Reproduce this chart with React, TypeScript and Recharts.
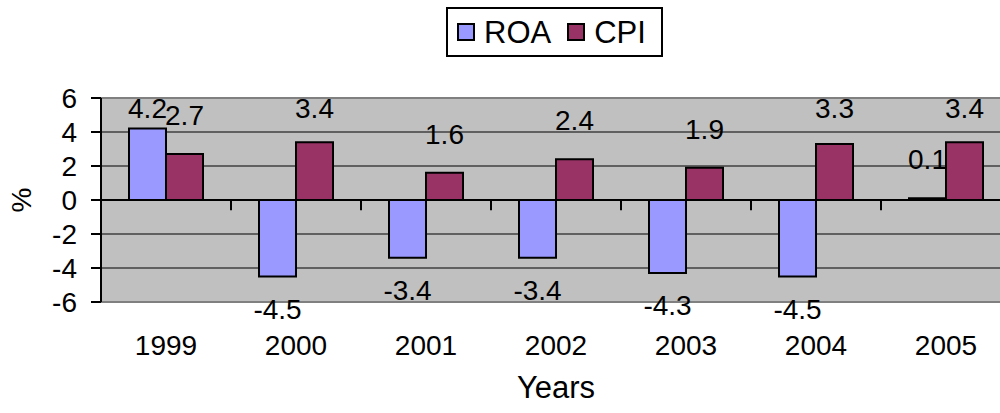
import {
  BarChart,
  Bar,
  XAxis,
  YAxis,
  CartesianGrid,
  ReferenceLine,
  LabelList,
  Legend,
} from "recharts";

const YEARS = ["1999", "2000", "2001", "2002", "2003", "2004", "2005"];
const ROA = [4.2, -4.5, -3.4, -3.4, -4.3, -4.5, 0.1];
const CPI = [2.7, 3.4, 1.6, 2.4, 1.9, 3.3, 3.4];
const Y_TICKS = [-6, -4, -2, 0, 2, 4, 6];
const Y_MAX = 6;

const SERIES = [
  { key: "ROA", color: "#9999FF" },
  { key: "CPI", color: "#993366" },
];

const FONT = '"Liberation Sans", Arial, sans-serif';
const FONT_SIZE = 28;

const chartData = YEARS.map((year, i) => ({ year, ROA: ROA[i], CPI: CPI[i] }));

function LegendBox() {
  return (
    <div style={{ height: 98, position: "relative", fontFamily: FONT }}>
      <div
        style={{
          position: "absolute",
          left: 446,
          top: 7,
          width: 217,
          height: 50,
          boxSizing: "border-box",
          border: "2px solid #000",
          background: "#fff",
          display: "flex",
          alignItems: "center",
          paddingLeft: 9,
        }}
      >
        {SERIES.map((s, i) => (
          <div
            key={s.key}
            style={{ display: "flex", alignItems: "center", marginLeft: i ? 16 : 0 }}
          >
            <span
              style={{
                width: 18,
                height: 18,
                boxSizing: "border-box",
                border: "2px solid #000",
                background: s.color,
                marginRight: 9,
              }}
            />
            <span style={{ fontSize: 31, color: "#000", lineHeight: 1 }}>{s.key}</span>
          </div>
        ))}
      </div>
    </div>
  );
}

function PercentLabel(props: any) {
  const vb = props.viewBox;
  const x = vb.x + 21;
  const y = vb.y + vb.height / 2;
  return (
    <text
      x={x}
      y={y}
      transform={`rotate(-90 ${x} ${y})`}
      textAnchor="middle"
      dominantBaseline="central"
      fontFamily={FONT}
      fontSize={FONT_SIZE}
      fill="#000"
    >
      %
    </text>
  );
}

// value label: above positive bars (kept inside the plot), below negative ones
function ValueLabel(props: any) {
  const { x, y, width, height, value } = props;
  const v = Number(value);
  const cx = x + width / 2;
  let baseline: number;
  if (v >= 0) {
    const zeroY = y + height;
    const top = v > 0 ? zeroY - (Y_MAX * height) / v : zeroY - 200;
    baseline = Math.max(y - 29, top + 20);
  } else {
    // y is the bar's end for a negative bar
    baseline = y + 22 + 20;
  }
  return (
    <text
      x={cx}
      y={baseline}
      textAnchor="middle"
      fontFamily={FONT}
      fontSize={FONT_SIZE}
      fill="#000"
    >
      {v}
    </text>
  );
}

export default function App() {
  return (
    <div
      style={{
        position: "fixed",
        left: 0,
        top: 0,
        width: 1000,
        height: 413,
        overflow: "hidden",
        background: "#fff",
      }}
    >
      <BarChart
        width={1030}
        height={413}
        data={chartData}
        margin={{ top: 0, right: 19, bottom: 0, left: 0 }}
        barGap={0}
        barSize={37}
        style={{ fontFamily: FONT }}
      >
        <CartesianGrid vertical={false} stroke="#000" strokeWidth={1} fill="#C0C0C0" />
        <XAxis
          dataKey="year"
          axisLine={false}
          tickLine={false}
          tickSize={0}
          tickMargin={33}
          height={111}
          tick={{ fill: "#000", fontSize: FONT_SIZE, fontFamily: FONT }}
          label={{
            value: "Years",
            position: "insideBottom",
            offset: 15,
            fill: "#000",
            fontSize: 31,
            fontFamily: FONT,
          }}
        />
        <YAxis
          width={101}
          domain={[-6, 6]}
          ticks={Y_TICKS}
          interval={0}
          allowDataOverflow
          stroke="#000"
          tickSize={10}
          tickMargin={14}
          axisLine={{ stroke: "#000", strokeWidth: 2 }}
          tickLine={{ stroke: "#000", strokeWidth: 2 }}
          tick={{ fill: "#000", fontSize: FONT_SIZE, fontFamily: FONT }}
          label={{ content: PercentLabel }}
        />
        <Legend verticalAlign="top" content={LegendBox} />
        <ReferenceLine y={6} stroke="#808080" strokeWidth={2} />
        <ReferenceLine y={-6} stroke="#808080" strokeWidth={2} />
        {SERIES.map((s) => (
          <Bar
            key={s.key}
            dataKey={s.key}
            fill={s.color}
            stroke="#000"
            strokeWidth={2}
            isAnimationActive={false}
          >
            <LabelList dataKey={s.key} content={ValueLabel} />
          </Bar>
        ))}
        <ReferenceLine y={0} stroke="#000" strokeWidth={2} />
        {YEARS.slice(1).map((yr) => (
          <ReferenceLine
            key={yr}
            position="start"
            segment={[
              { x: yr, y: 0 },
              { x: yr, y: -0.6 },
            ]}
            stroke="#000"
            strokeWidth={2}
          />
        ))}
      </BarChart>
    </div>
  );
}
